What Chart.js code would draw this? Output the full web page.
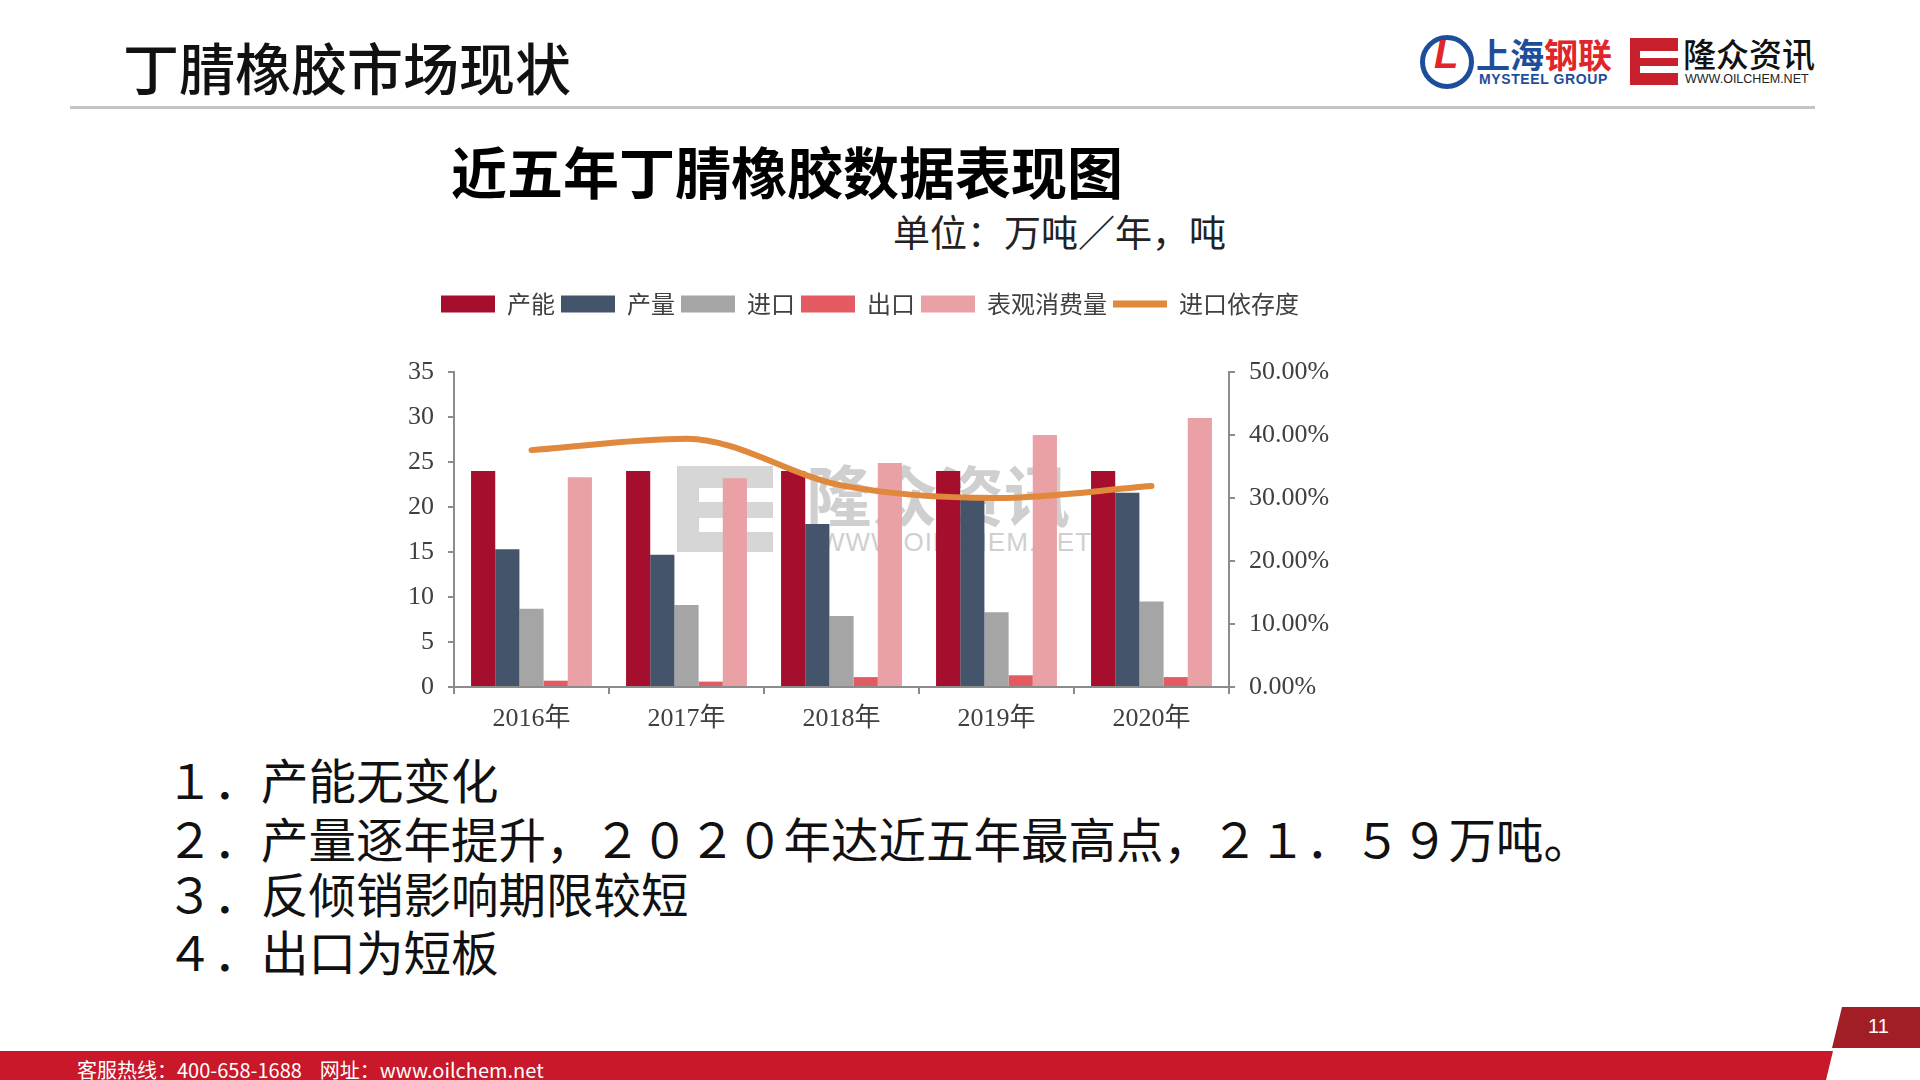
<!DOCTYPE html>
<html lang="zh">
<head>
<meta charset="utf-8">
<title>丁腈橡胶市场现状</title>
<script src="https://cdn.jsdelivr.net/npm/chart.js@4.4.1/dist/chart.umd.min.js"></script>
<style>
  html, body { margin: 0; padding: 0; }
  body {
    width: 1920px; height: 1080px; overflow: hidden; background: #fff; position: relative;
    font-family: 'Noto Sans CJK SC', 'Noto Sans', sans-serif; color: #111;
  }
  .abs { position: absolute; white-space: nowrap; }
  #pageTitle { left: 123px; top: 31px; font-size: 56px; line-height: 70px; font-weight: 500; color: #111; }
  #rule { left: 70px; top: 106px; width: 1745px; height: 3px; background: #c4c4c4; }

  /* logos, top right */
  #gLogo { left: 1420px; top: 35px; width: 44px; height: 44px; border: 5px solid #1d4e9b; border-radius: 50%; }
  #gLogo span { position: absolute; left: 9px; top: -8px; font: italic bold 40px 'Liberation Sans', sans-serif; color: #e0262a; }
  #mysteel { left: 1476px; top: 34px; font-size: 34px; line-height: 40px; font-weight: 700; }
  #mysteel .b { color: #1d4e9b; } #mysteel .r { color: #e0262a; }
  #mysteelEn { left: 1479px; top: 71px; font: bold 14px 'Liberation Sans', sans-serif; color: #1d4e9b; letter-spacing: 0.6px; }
  #eLogo { left: 1630px; top: 38px; width: 48px; height: 47px; background: #c8202c; }
  #eLogo i { position: absolute; left: 10px; top: 13px; width: 38px; height: 7px; background: #fff; }
  #eLogo b { position: absolute; left: 10px; top: 28px; width: 38px; height: 7px; background: #fff; }
  #oilchem { left: 1683px; top: 33px; font-size: 33px; line-height: 40px; font-weight: 500; color: #111; }
  #oilchemEn { left: 1685px; top: 72px; font: 12.5px 'Liberation Sans', sans-serif; color: #222; }

  #chartTitle { left: 451px; top: 135px; font-size: 56px; line-height: 70px; font-weight: 700; color: #000; }
  #unit { left: 893px; top: 209px; font-size: 37px; line-height: 44px; color: #222; }

  /* faint watermark behind the plot */
  #wmBlock { left: 677px; top: 466px; width: 96px; height: 86px; background: #cfcfcf; opacity: 0.85; }
  #wmBlock i { position: absolute; left: 22px; top: 22px; width: 74px; height: 14px; background: #fff; }
  #wmBlock b { position: absolute; left: 22px; top: 52px; width: 74px; height: 14px; background: #fff; }
  #wmText { left: 806px; top: 452px; font-size: 66px; line-height: 80px; font-weight: 700; color: #cfcfcf; }
  #wmUrl { left: 820px; top: 527px; font: 26px 'Liberation Sans', sans-serif; color: #cfcfcf; letter-spacing: 1px; }

  #chartBox { left: 380px; top: 286px; width: 980px; height: 451px; }

  .note { left: 166px; font-size: 47.5px; line-height: 58px; color: #111; }

  #footer { left: 0; top: 1051px; width: 1833px; height: 29px; background: #c8182a;
            clip-path: polygon(0 0, 100% 0, 1826px 100%, 0 100%); }
  #footText { left: 77px; top: 1057px; font-size: 20px; line-height: 26px; color: #fff; }
  #pageNo { left: 1832px; top: 1007px; width: 88px; height: 41px; background: #a21e27;
            clip-path: polygon(10px 0, 100% 0, 100% 100%, 0 100%); }
  #pageNo span { position: absolute; left: 36px; top: 8px; font: 20px 'Liberation Sans', sans-serif; color: #fff; }
</style>
</head>
<body>
<div class="abs" id="pageTitle">丁腈橡胶市场现状</div>
<div class="abs" id="rule"></div>

<div class="abs" id="gLogo"><span>L</span></div>
<div class="abs" id="mysteel"><span class="b">上海</span><span class="r">钢联</span></div>
<div class="abs" id="mysteelEn">MYSTEEL GROUP</div>
<div class="abs" id="eLogo"><i></i><b></b></div>
<div class="abs" id="oilchem">隆众资讯</div>
<div class="abs" id="oilchemEn">WWW.OILCHEM.NET</div>

<div class="abs" id="chartTitle">近五年丁腈橡胶数据表现图</div>
<div class="abs" id="unit">单位：万吨／年，吨</div>

<div class="abs" id="wmBlock"><i></i><b></b></div>
<div class="abs" id="wmText">隆众资讯</div>
<div class="abs" id="wmUrl">WWW.OILCHEM.NET</div>

<div class="abs" id="chartBox"><canvas id="nbrChart"></canvas></div>

<div class="abs note" style="top:750px">１．产能无变化</div>
<div class="abs note" style="top:809px">２．产量逐年提升，２０２０年达近五年最高点，２１．５９万吨。</div>
<div class="abs note" style="top:864px">３．反倾销影响期限较短</div>
<div class="abs note" style="top:922px">４．出口为短板</div>

<div class="abs" id="footer"></div>
<div class="abs" id="footText">客服热线：400-658-1688&nbsp;&nbsp;&nbsp;&nbsp;网址：www.oilchem.net</div>
<div class="abs" id="pageNo"><span>11</span></div>

<script>
// values (万吨, share)
const years = ['2016年', '2017年', '2018年', '2019年', '2020年'];
const capacity = [24, 24, 24, 24, 24];
const output = [15.3, 14.7, 18.1, 21.0, 21.59];
const imports = [8.7, 9.1, 7.9, 8.3, 9.5];
const exports = [0.7, 0.6, 1.1, 1.3, 1.1];
const apparent = [23.3, 23.2, 24.9, 28.0, 29.9];
const importShare = [0.376, 0.394, 0.320, 0.300, 0.319];

const leftTicks = [0, 5, 10, 15, 20, 25, 30, 35];

const axisGrey = '#8c8c8c';
const tickFont = { family: "'Liberation Serif', 'Noto Sans CJK SC', serif", size: 26 };

// keep the legend block a fixed height so the plot top lands where it should
const legendHeight = {
  id: 'legendHeight',
  beforeInit(chart) {
    const fit = chart.legend.fit;
    chart.legend.fit = function () {
      fit.call(this);
      this.height = 86;
    };
  }
};

const ctx = document.getElementById('nbrChart').getContext('2d');
new Chart(ctx, {
  type: 'bar',
  data: {
    labels: years,
    datasets: [
      { label: '产能', data: capacity, backgroundColor: '#a50e2d', yAxisID: 'y' },
      { label: '产量', data: output, backgroundColor: '#44546a', yAxisID: 'y' },
      { label: '进口', data: imports, backgroundColor: '#a5a5a5', yAxisID: 'y' },
      { label: '出口', data: exports, backgroundColor: '#e35a62', yAxisID: 'y' },
      { label: '表观消费量', data: apparent, backgroundColor: '#eaa1a5', yAxisID: 'y' },
      {
        type: 'line', label: '进口依存度', data: importShare, yAxisID: 'y1', order: -1,
        borderColor: '#e0883c', backgroundColor: '#e0883c', borderWidth: 6,
        cubicInterpolationMode: 'monotone', pointRadius: 0, borderCapStyle: 'round', fill: false
      }
    ]
  },
  options: {
    responsive: true,
    maintainAspectRatio: false,
    animation: false,
    datasets: {
      bar: { categoryPercentage: 0.78, barPercentage: 1.0, borderWidth: 0 }
    },
    layout: { padding: 0 },
    plugins: {
      tooltip: { enabled: false },
      legend: {
        position: 'top',
        labels: {
          usePointStyle: true,
          pointStyleWidth: 54,
          boxHeight: 17,
          padding: 6,
          color: '#404040',
          font: { family: "'Noto Sans CJK SC', sans-serif", size: 24 },
          generateLabels(chart) {
            const items = Chart.defaults.plugins.legend.labels.generateLabels(chart);
            items.forEach(it => {
              const ds = chart.data.datasets[it.datasetIndex];
              if (ds.type === 'line') {
                it.pointStyle = 'line';
                it.lineWidth = 7;
                it.strokeStyle = ds.borderColor;
              } else {
                it.pointStyle = 'rect';
                it.lineWidth = 0;
              }
            });
            return items.sort((a, b) => a.datasetIndex - b.datasetIndex);
          }
        }
      }
    },
    scales: {
      x: {
        afterFit: s => { s.height = 50; },
        grid: { display: true, drawOnChartArea: false, drawTicks: true, tickLength: 7, color: axisGrey, lineWidth: 2 },
        border: { display: true, color: axisGrey, width: 2 },
        ticks: { color: '#404040', font: tickFont, padding: 10 }
      },
      y: {
        position: 'left',
        min: 0,
        max: 35,
        afterFit: s => { s.width = 74; },
        afterBuildTicks: s => { s.ticks = leftTicks.map(v => ({ value: v })); },
        grid: { display: true, drawOnChartArea: false, drawTicks: true, tickLength: 6, color: axisGrey, lineWidth: 2 },
        border: { display: true, color: axisGrey, width: 2 },
        ticks: { color: '#404040', font: tickFont, padding: 14 }
      },
      y1: {
        position: 'right',
        min: 0,
        max: 0.5,
        afterFit: s => { s.width = 131; },
        grid: { display: true, drawOnChartArea: false, drawTicks: true, tickLength: 6, color: axisGrey, lineWidth: 2 },
        border: { display: true, color: axisGrey, width: 2 },
        ticks: {
          stepSize: 0.1,
          color: '#404040',
          font: tickFont,
          padding: 14,
          callback: v => (v * 100).toFixed(2) + '%'
        }
      }
    }
  },
  plugins: [legendHeight]
});
</script>
</body>
</html>
